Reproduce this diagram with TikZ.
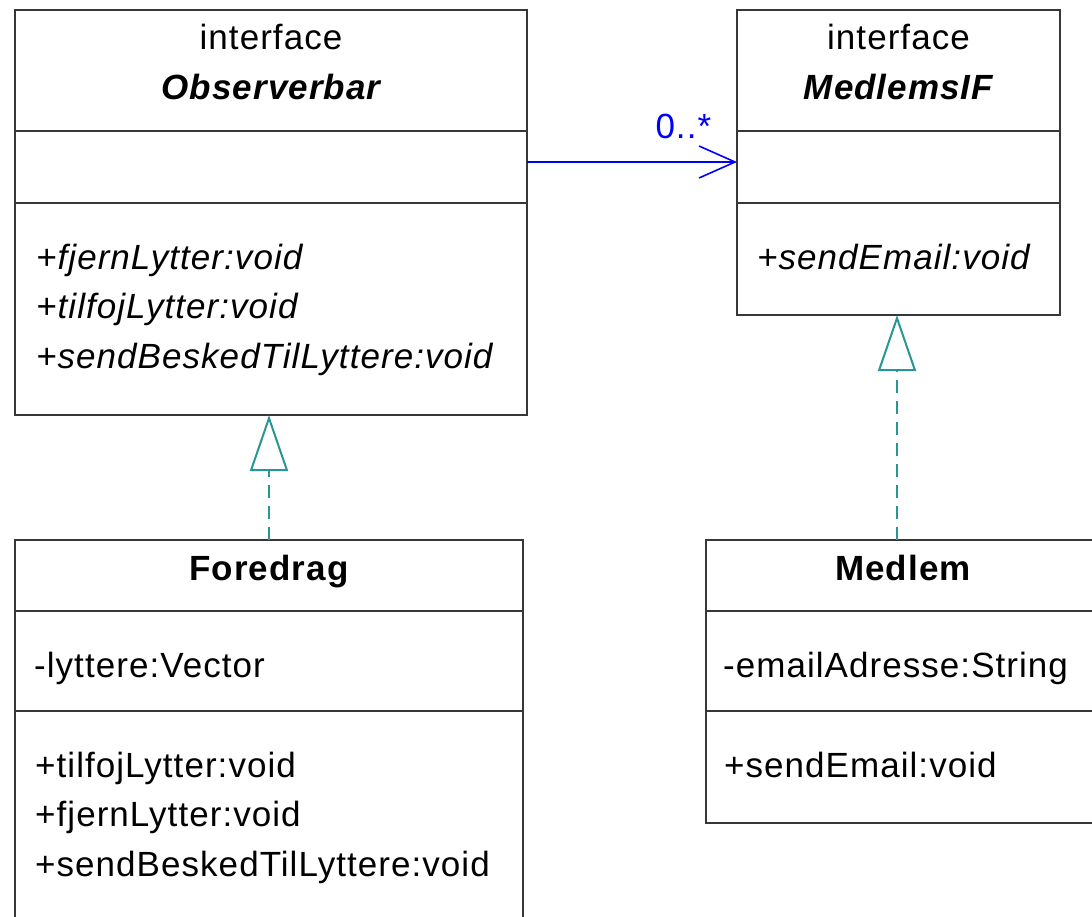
\documentclass[tikz,border=0pt]{standalone}
\usepackage{fontspec}
\setmainfont{Liberation Sans}[LetterSpace=3]
\usetikzlibrary{arrows.meta}
\definecolor{boxline}{RGB}{55,55,55}
\definecolor{umlteal}{RGB}{40,150,150}
\definecolor{umlblue}{RGB}{0,0,255}
\newcommand\umlfont{\fontsize{35pt}{42pt}\selectfont}
\tikzset{
  compart/.style={draw=boxline, line width=2pt, anchor=north west,
    inner sep=0pt, outer sep=0pt},
  member/.style={inner sep=0pt, anchor=base west, font=\umlfont},
  title/.style={inner sep=0pt, anchor=base, font=\umlfont},
  realize/.style={draw=umlteal, line width=2pt, dash pattern=on 13pt off 8pt,
    -{Triangle[open, length=56pt, width=38pt]}},
  assoc/.style={draw=umlblue, line width=1.6pt,
    -{Straight Barb[length=36pt, width=32pt]}},
  mult/.style={inner sep=0pt, font=\umlfont, text=umlblue},
}
\begin{document}
\begin{tikzpicture}[x=1pt, y=-1pt]
  \useasboundingbox (0,0) rectangle (1092,917);
  \fill[white] (0,0) rectangle (1092,917);
  \clip (0,0) rectangle (1092,917);

  % interface Observerbar
  \node[compart, minimum width=512pt, minimum height=121pt] (obshead) at (15,10) {};
  \node[compart, minimum width=512pt, minimum height=72pt]  (obsattr) at (15,131) {};
  \node[compart, minimum width=512pt, minimum height=212pt] (obsops)  at (15,203) {};
  \node[title] (obsstereo) at (271,50) {interface};
  \node[title] (obsname) at (271,100) {\bfseries\itshape Observerbar};
  \node[member] (obsop1) at (36,270) {\itshape +fjernLytter:void};
  \node[member] (obsop2) at (36,319) {\itshape +tilfojLytter:void};
  \node[member] (obsop3) at (36,368) {\itshape +sendBeskedTilLyttere:void};

  % interface MedlemsIF
  \node[compart, minimum width=323pt, minimum height=121pt] (ifhead) at (737,10) {};
  \node[compart, minimum width=323pt, minimum height=72pt]  (ifattr) at (737,131) {};
  \node[compart, minimum width=323pt, minimum height=112pt] (ifops)  at (737,203) {};
  \node[title] (ifstereo) at (898.5,50) {interface};
  \node[title] (ifname) at (898.5,100) {\bfseries\itshape MedlemsIF};
  \node[member] (ifop1) at (757,270) {\itshape +sendEmail:void};

  % class Foredrag
  \node[compart, minimum width=508pt, minimum height=71pt]  (forhead) at (15,540) {};
  \node[compart, minimum width=508pt, minimum height=100pt] (forattr) at (15,611) {};
  \node[compart, minimum width=508pt, minimum height=250pt] (forops)  at (15,711) {};
  \node[title] (forname) at (269,580) {\bfseries Foredrag};
  \node[member] (forat1) at (34,677) {-lyttere:Vector};
  \node[member] (forop1) at (35,777) {+tilfojLytter:void};
  \node[member] (forop2) at (35,826) {+fjernLytter:void};
  \node[member] (forop3) at (35,876) {+sendBeskedTilLyttere:void};

  % class Medlem
  \node[compart, minimum width=400pt, minimum height=71pt]  (medhead) at (706,540) {};
  \node[compart, minimum width=400pt, minimum height=100pt] (medattr) at (706,611) {};
  \node[compart, minimum width=400pt, minimum height=112pt] (medops)  at (706,711) {};
  \node[title] (medname) at (903,580) {\bfseries Medlem};
  \node[member] (medat1) at (723,677) {-emailAdresse:String};
  \node[member] (medop1) at (724,777) {+sendEmail:void};

  % association Observerbar -> MedlemsIF
  \draw[assoc] ([yshift=5pt]obsattr.east) -- ([yshift=5pt]ifattr.west)
    node[mult, pos=1, anchor=base east, xshift=-25pt, yshift=23pt] {0..*};

  % realizations
  \draw[realize] (forhead.north) -- (forhead.north |- obsops.south);
  \draw[realize] ([xshift=-1.5pt]ifops.south |- medhead.north) -- ([xshift=-1.5pt]ifops.south);
\end{tikzpicture}
\end{document}
